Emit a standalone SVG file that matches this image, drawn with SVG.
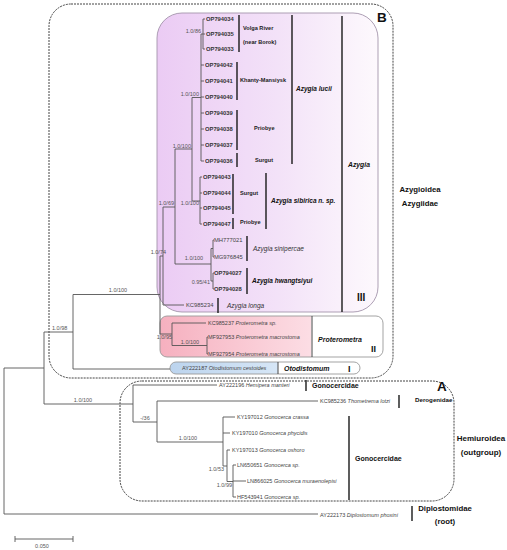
<svg xmlns="http://www.w3.org/2000/svg" width="507" height="550" viewBox="0 0 507 550">
<defs>
<linearGradient id="gPurple" x1="0" y1="0" x2="1" y2="0">
<stop offset="0" stop-color="#ebcbf4"/>
<stop offset="0.55" stop-color="#f3e2f8"/>
<stop offset="1" stop-color="#fdf9fd"/>
</linearGradient>
<linearGradient id="gPink" x1="0" y1="0" x2="1" y2="0">
<stop offset="0" stop-color="#f6b0bf"/>
<stop offset="0.675" stop-color="#fcdde4"/>
<stop offset="0.68" stop-color="#ffffff"/>
<stop offset="1" stop-color="#ffffff"/>
</linearGradient>
<linearGradient id="gBlue" x1="0" y1="0" x2="1" y2="0">
<stop offset="0" stop-color="#bcd4ee"/>
<stop offset="0.565" stop-color="#d6e6f6"/>
<stop offset="0.57" stop-color="#ffffff"/>
<stop offset="1" stop-color="#ffffff"/>
</linearGradient>
</defs>
<style>
text{font-family:"Liberation Sans",Arial,sans-serif;}
.br{stroke:#555;stroke-width:0.9;fill:none;}
.bar{stroke:#1a1a1a;stroke-width:1.4;fill:none;}
.dash{fill:none;stroke:#444;stroke-width:1;stroke-dasharray:2 1;}
.tipb{font-size:5.8px;font-weight:bold;fill:#333;}
.tip{font-size:5.5px;fill:#444;}
.tipr{font-size:5.8px;fill:#444;}
.sup{font-size:5.5px;fill:#555;}
.sp{font-size:6.5px;font-style:italic;fill:#333;}
.spb{font-size:6.5px;font-style:italic;font-weight:bold;fill:#111;}
.loc{font-size:5.6px;font-weight:bold;fill:#222;}
.grp{font-weight:bold;fill:#111;}
</style>
<rect width="507" height="550" fill="#ffffff"/>
<g id="boxB"><rect class="dash" x="49" y="4" width="344" height="374" rx="22"/><text class="grp" x="377" y="22" font-size="13.5">B</text></g>
<g id="boxIII"><rect x="157" y="13" width="221" height="299" rx="25" fill="url(#gPurple)" stroke="#a494ab" stroke-width="0.9"/><text class="grp" x="357" y="301" font-size="10">III</text></g>
<g id="boxII"><rect x="160" y="316" width="223" height="41" rx="7" fill="url(#gPink)" stroke="#999" stroke-width="0.9"/><line x1="312" y1="316" x2="312" y2="357" stroke="#333" stroke-width="0.9"/><text class="grp" x="371" y="352" font-size="9">II</text></g>
<g id="boxI"><rect x="170" y="362" width="190" height="12" rx="6" fill="url(#gBlue)" stroke="#999" stroke-width="0.9"/><line x1="278" y1="362" x2="278" y2="374" stroke="#333" stroke-width="0.9"/><text class="grp" x="348" y="371.5" font-size="9">I</text></g>
<g id="boxA"><rect class="dash" x="120" y="381" width="334" height="120" rx="22"/><text class="grp" x="437" y="391" font-size="13.5">A</text></g>
<g id="connectors">
<path class="br" d="M4,368V514M4,368H44M4,514H318M44,332V404M44,332H73M44,404H133M73,294.5V369M73,294.5H160M73,369H170M160,256V334M160,256H163M160,334H172M163,207V305M163,207H175M163,305H184M175,149V264M175,149H192M175,264H211M192,97.5V201M192,97.5H201M192,201H200M201,34V161M201,34H203M203,19V49M203,19H205M203,34H205M203,49H205M201,65H204M201,81H204M201,97H204M201,113H204M201,129H204M201,145H204M201,161H204M200,177V224M200,177H202M200,193H202M200,208H202M200,224H202M211,248.5V281M211,248.5H213M213,240V257M213,240H214M213,257H214M211,281H213M213,273V289M213,273H214M213,289H214"/>
<path class="br" d="M172,323V345.5M172,323H206M172,345.5H207M207,337V354M207,337H208M207,354H208"/>
<path class="br" d="M133,385V422M133,385H217M133,422H157M157,401V442M157,401H318M157,442H223M223,417V466M223,417H235M223,433H230M223,466H227M227,450V481.5M227,450H230M227,481.5H233M233,465V497M233,465H236M233,481H246M233,497H236"/>
</g>
<g id="bars">
<path class="bar" d="M239,15V52M237,62V100M237,110V150M237,153V167M292,15V164M342,16V312M233,174V214M233,218V229M266,173V229M247,236V261M247,268V294M218,298V313M306,380V391M399,395V408M349,416V500M412,506V521"/>
</g>
<g id="support">
<text class="sup" x="201" y="33" text-anchor="end">1.0/86</text>
<text class="sup" x="199" y="96" text-anchor="end">1.0/100</text>
<text class="sup" x="191" y="148" text-anchor="end">1.0/100</text>
<text class="sup" x="174" y="205" text-anchor="end">1.0/69</text>
<text class="sup" x="199" y="205" text-anchor="end">1.0/100</text>
<text class="sup" x="166" y="254" text-anchor="end">1.0/74</text>
<text class="sup" x="194" y="260" text-anchor="middle">1.0/100</text>
<text class="sup" x="210" y="284" text-anchor="end">0.95/41</text>
<text class="sup" x="118" y="292" text-anchor="middle">1.0/100</text>
<text class="sup" x="172" y="339" text-anchor="end">1.0/95</text>
<text class="sup" x="190" y="344" text-anchor="middle">1.0/100</text>
<text class="sup" x="52" y="330">1.0/98</text>
<text class="sup" x="83" y="402" text-anchor="middle">1.0/100</text>
<text class="sup" x="145" y="420" text-anchor="middle">-/36</text>
<text class="sup" x="188" y="440" text-anchor="middle">1.0/100</text>
<text class="sup" x="224" y="471" text-anchor="end">1.0/53</text>
<text class="sup" x="232" y="487" text-anchor="end">1.0/99</text>
</g>
<g id="azygia-lucii">
<text class="tipb" x="206" y="21">OP794034</text>
<text class="tipb" x="206" y="36">OP794035</text>
<text class="tipb" x="206" y="51">OP794033</text>
<text class="tipb" x="205" y="67">OP794042</text>
<text class="tipb" x="205" y="83">OP794041</text>
<text class="tipb" x="205" y="99">OP794040</text>
<text class="tipb" x="205" y="115">OP794039</text>
<text class="tipb" x="205" y="131">OP794038</text>
<text class="tipb" x="205" y="147">OP794037</text>
<text class="tipb" x="205" y="163">OP794036</text>
<text class="loc" x="243" y="29.5" font-size="6.3">Volga River</text>
<text class="loc" x="243" y="43.5" font-size="6.3">(near Borok)</text>
<text class="loc" x="240" y="82">Khanty-Mansiysk</text>
<text class="loc" x="254" y="130">Priobye</text>
<text class="loc" x="255" y="162">Surgut</text>
<text class="spb" x="296" y="90.5">Azygia lucii</text>
</g>
<g id="azygia-sibirica">
<text class="tipb" x="203" y="179">OP794043</text>
<text class="tipb" x="203" y="195">OP794044</text>
<text class="tipb" x="203" y="210">OP794045</text>
<text class="tipb" x="203" y="226">OP794047</text>
<text class="loc" x="240" y="195">Surgut</text>
<text class="loc" x="240" y="224">Priobye</text>
<text class="spb" x="271" y="203">Azygia sibirica n. sp.</text>
</g>
<g id="azygia-others">
<text class="tipr" x="214" y="242">MH777021</text>
<text class="tipr" x="214" y="259">MG976845</text>
<text class="sp" x="253" y="251">Azygia sinipercae</text>
<text class="tipb" x="214" y="275">OP794027</text>
<text class="tipb" x="214" y="291">OP794028</text>
<text class="spb" x="252" y="283">Azygia hwangtsiyui</text>
<text class="tipr" x="186" y="307">KC985234</text>
<text class="sp" x="227" y="307.5">Azygia longa</text>
<text class="grp" x="348" y="167" font-size="6.8" font-style="italic">Azygia</text>
</g>
<g id="azygioidea-label">
<text class="grp" x="420" y="192" font-size="7.8" text-anchor="middle">Azygioidea</text>
<text class="grp" x="420" y="206" font-size="7.8" text-anchor="middle">Azygiidae</text>
</g>
<g id="proterometra">
<text class="tip" x="208" y="325">KC985237 <tspan font-style="italic">Proterometra sp.</tspan></text>
<text class="tip" x="208" y="339">MF927953 <tspan font-style="italic">Proterometra macrostoma</tspan></text>
<text class="tip" x="208" y="356">MF927954 <tspan font-style="italic">Proterometra macrostoma</tspan></text>
<text class="grp" x="318" y="341.5" font-size="7" font-style="italic">Proterometra</text>
</g>
<g id="otodistomum">
<text class="tip" x="182" y="370">AY222187 <tspan font-style="italic">Otodistomum cestoides</tspan></text>
<text class="grp" x="284" y="370.5" font-size="7" font-style="italic">Otodistomum</text>
</g>
<g id="outgroup">
<text class="tip" x="219" y="387">AY222196 <tspan font-style="italic">Hemipera manteri</tspan></text>
<text class="grp" x="312" y="387.5" font-size="7">Gonocercidae</text>
<text class="tip" x="320" y="403">KC985236 <tspan font-style="italic">Thometrema lotzi</tspan></text>
<text class="grp" x="415" y="402.2" font-size="6.2">Derogenidae</text>
<text class="tip" x="237" y="419">KY197012 <tspan font-style="italic">Gonocerca crassa</tspan></text>
<text class="tip" x="232" y="435">KY197010 <tspan font-style="italic">Gonocerca phycidis</tspan></text>
<text class="tip" x="232" y="452">KY197013 <tspan font-style="italic">Gonocerca oshoro</tspan></text>
<text class="tip" x="237" y="467">LN650651 <tspan font-style="italic">Gonocerca sp.</tspan></text>
<text class="tip" x="247" y="483">LN866025 <tspan font-style="italic">Gonocerca muraenolepisi</tspan></text>
<text class="tip" x="237" y="499">HF543941 <tspan font-style="italic">Gonocerca sp.</tspan></text>
<text class="grp" x="355" y="460.5" font-size="7">Gonocercidae</text>
<text class="grp" x="481" y="441" font-size="8" text-anchor="middle">Hemiuroidea</text>
<text class="grp" x="481" y="455" font-size="8" text-anchor="middle">(outgroup)</text>
</g>
<g id="root">
<text class="tip" x="320" y="517">AY222173 <tspan font-style="italic">Diplostomum phoxini</tspan></text>
<text class="grp" x="445" y="510.5" font-size="7.8" text-anchor="middle">Diplostomidae</text>
<text class="grp" x="445" y="524" font-size="7.8" text-anchor="middle">(root)</text>
</g>
<g id="scale">
<path class="br" d="M15,539H73M15,536V542M73,536V542"/>
<text class="sup" x="42" y="548" text-anchor="middle">0.050</text>
</g>
</svg>
